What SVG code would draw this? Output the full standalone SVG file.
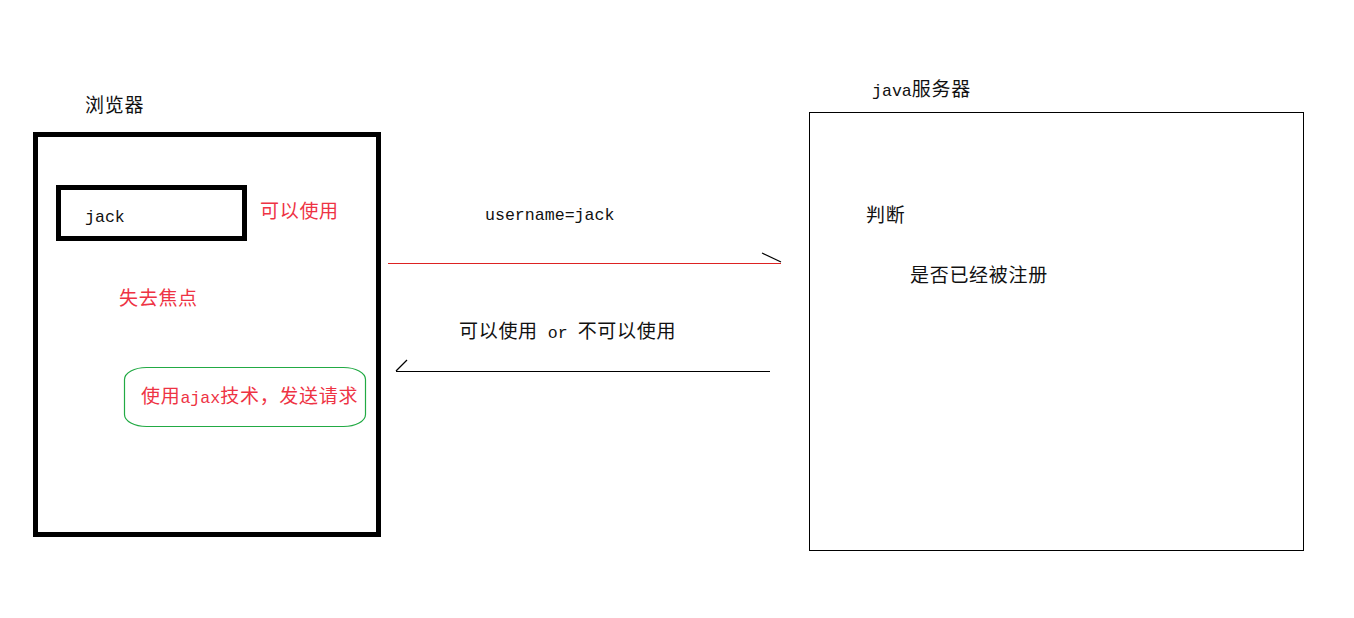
<svg xmlns="http://www.w3.org/2000/svg" width="1354" height="618" viewBox="0 0 1354 618">
<style>
.t{font-family:"Noto Sans CJK SC","Liberation Serif",serif;font-size:19px;letter-spacing:0.7px;fill:#111}
.red{fill:#ee3344}
.m{font-family:"Liberation Mono",monospace;font-size:16.6px;letter-spacing:0}
.thick{fill:none;stroke:#000;stroke-width:5}
.conn{fill:none;stroke-width:1.2}
</style>
<rect width="1354" height="618" fill="#fff"/>
<g id="browser">
  <text class="t" x="85" y="112">浏览器</text>
  <rect class="thick" x="35.5" y="134.5" width="343" height="400"/>
</g>
<g id="input">
  <rect class="thick" x="58.5" y="187.5" width="186" height="51"/>
  <text class="t m" x="85" y="222">jack</text>
</g>
<g id="available">
  <text class="t red" x="260" y="218">可以使用</text>
</g>
<g id="blur">
  <text class="t red" x="119" y="305">失去焦点</text>
</g>
<g id="ajax">
  <rect x="124.5" y="367.5" width="241" height="59" rx="22" ry="12" fill="none" stroke="#22aa44" stroke-width="1.2"/>
  <text class="t red" x="141" y="403">使用<tspan class="m">ajax</tspan>技术，发送请求</text>
</g>
<g id="server">
  <text class="t" x="872" y="96"><tspan class="m">java</tspan>服务器</text>
  <rect x="809.5" y="112.5" width="494" height="438" fill="none" stroke="#000" stroke-width="1"/>
  <text class="t" x="866" y="222">判断</text>
  <text class="t" x="910" y="282">是否已经被注册</text>
</g>
<g id="connectors">
  <line class="conn" x1="388" y1="263.5" x2="781" y2="263.5" stroke="#dd2222"/>
  <line class="conn" x1="762" y1="253" x2="781" y2="262" stroke="#000"/>
  <line class="conn" x1="396" y1="371.5" x2="770" y2="371.5" stroke="#000"/>
  <line class="conn" x1="396" y1="371" x2="407" y2="360" stroke="#000"/>
  <text class="t m" x="485" y="220">username=jack</text>
  <text class="t" x="459" y="338">可以使用<tspan class="m"> or </tspan>不可以使用</text>
</g>
</svg>
